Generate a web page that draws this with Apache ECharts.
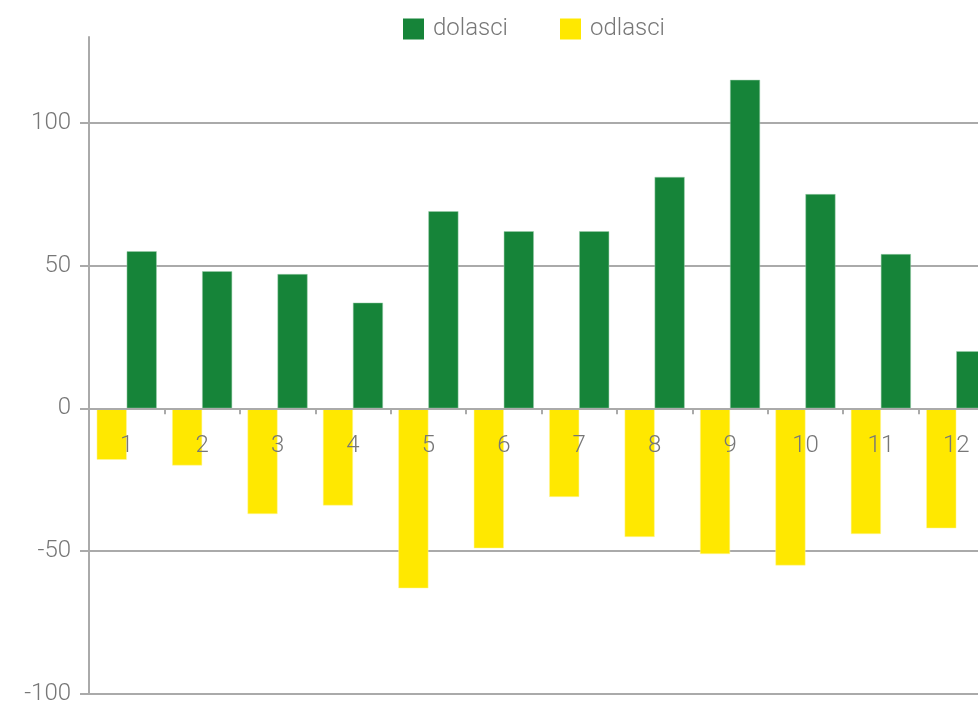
<!DOCTYPE html>
<html><head><meta charset="utf-8">
<script src="https://cdn.jsdelivr.net/npm/echarts@6/dist/echarts.min.js"></script>
<style>html,body{margin:0;padding:0;background:#fff}#c{width:978px;height:702px}</style>
</head><body><div id="c"></div>
<script>
const categories = ['1','2','3','4','5','6','7','8','9','10','11','12'];
const dolasci = [55, 48, 47, 37, 69, 62, 62, 81, 115, 75, 54, 20];
const odlasci = [-18, -20, -37, -34, -63, -49, -31, -45, -51, -55, -44, -42];
const seriesNames = ['dolasci', 'odlasci'];

const FONT = 'Roboto';
const chart = echarts.init(document.getElementById('c'));
chart.setOption({
  animation: false,
  legend: {
    data: seriesNames,
    top: 12,
    left: 398,
    itemWidth: 21,
    itemHeight: 21,
    itemGap: 52,
    icon: 'rect',
    itemStyle: { borderWidth: 0 },
    textStyle: { fontFamily: FONT, fontWeight: 300, fontSize: 24, color: '#777', padding: [0, 0, 0, 4] }
  },
  grid: { left: 89, right: -16, top: 37, bottom: 8, containLabel: false, outerBoundsMode: 'none' },
  xAxis: {
    type: 'category',
    data: categories,
    z: 5,
    axisLine: { onZero: true, lineStyle: { color: '#aaa', width: 2 } },
    axisTick: { show: true, length: 6, lineStyle: { color: '#aaa', width: 2 } },
    axisLabel: { fontFamily: FONT, fontWeight: 300, fontSize: 24, color: '#777', margin: -260 }
  },
  yAxis: {
    type: 'value',
    min: -100, max: 130, interval: 50,
    axisLine: { show: true, lineStyle: { color: '#aaa', width: 2 } },
    axisTick: { show: true, length: 9, lineStyle: { color: '#aaa', width: 2 } },
    splitLine: { show: true, lineStyle: { color: ['#aaa','#aaa','#aaa','#aaa','#aaa','rgba(0,0,0,0)'], width: 2 } },
    axisLabel: { fontFamily: FONT, fontWeight: 300, fontSize: 24, color: '#777', margin: 18, showMaxLabel: false,
      formatter: v => (v === 130 ? '' : String(v)) }
  },
  series: [
    { name: 'odlasci', type: 'bar', data: odlasci, barWidth: 30, barGap: '0%',
      itemStyle: { color: '#FFE800', borderColor: '#fff6a0', borderWidth: 0.5 } },
    { name: 'dolasci', type: 'bar', data: dolasci, barWidth: 30, barGap: '0%',
      itemStyle: { color: '#168439', borderColor: '#9fcfae', borderWidth: 0.5 } }
  ]
});
</script></body></html>
